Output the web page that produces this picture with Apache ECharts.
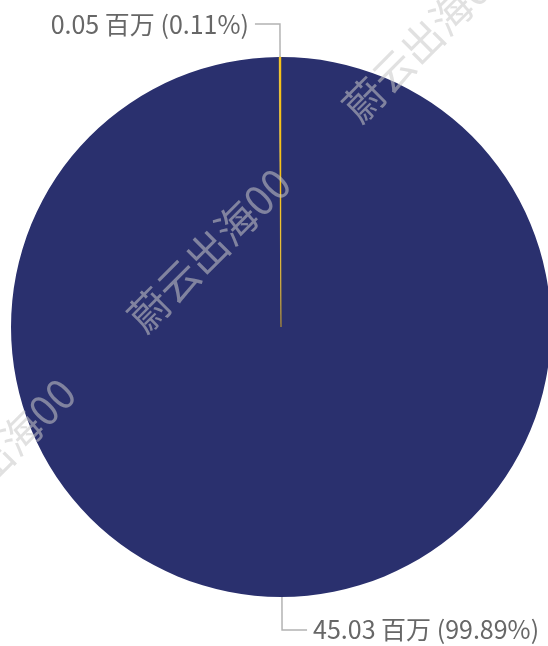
<!DOCTYPE html>
<html>
<head>
<meta charset="utf-8">
<script src="https://cdn.jsdelivr.net/npm/echarts@6/dist/echarts.min.js"></script>
<style>
html,body{margin:0;padding:0;background:#fff;}
#chart{width:548px;height:646px;}
</style>
</head>
<body>
<div id="chart"></div>
<script>
// data
const categories = ['其他', '小额'];
const values = [45.03, 0.05];
const unit = '百万';
const colors = ['#2a306e', '#f5c218'];
const watermarkText = '蔚云出海00';

const chart = echarts.init(document.getElementById('chart'));

const wmFont = '41px "Noto Sans CJK SC", sans-serif';
const wmFill = 'rgba(200,200,200,0.55)';
const wmAnchors = [[149, 310], [364, 100], [-66, 520]];

const option = {
  backgroundColor: '#ffffff',
  animation: false,
  graphic: wmAnchors.map(function (p) {
    return {
      type: 'text',
      x: p[0], y: p[1],
      rotation: Math.PI / 4,
      z: 100,
      silent: true,
      style: {
        text: watermarkText,
        x: -20, y: 0,
        font: wmFont,
        fill: wmFill,
        textAlign: 'left',
        textVerticalAlign: 'middle'
      }
    };
  }),
  series: [{
    type: 'pie',
    center: [281, 327],
    radius: 270,
    startAngle: 90,
    clockwise: true,
    avoidLabelOverlap: false,
    data: categories.map(function (c, i) {
      return {
        name: c, value: values[i],
        itemStyle: i === 1
          ? { color: colors[i], borderColor: colors[i], borderWidth: 0.45 }
          : { color: colors[i] }
      };
    }),
    label: {
      show: true,
      formatter: '{c} ' + unit + ' ({d}%)',
      color: '#676767',
      fontSize: 25,
      fontFamily: '"Noto Sans CJK SC", sans-serif',
      distanceToLabelLine: 6
    },
    labelLine: {
      show: true,
      length: 33,
      length2: 25,
      lineStyle: { color: '#b3b3b3', width: 1.5 }
    }
  }]
};
chart.setOption(option);
</script>
</body>
</html>
